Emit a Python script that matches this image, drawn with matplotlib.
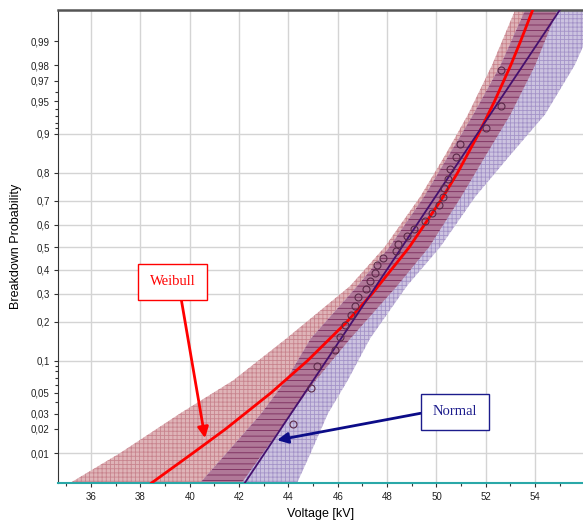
import numpy as np
import matplotlib
matplotlib.use("Agg")
import matplotlib.pyplot as plt
from matplotlib.ticker import FixedLocator, FixedFormatter
from statistics import NormalDist

# ---- data ----
# fitted lines (voltage at given breakdown probability)
line_p = [0.00385, 0.01, 0.02, 0.05, 0.1, 0.2, 0.3, 0.5, 0.7, 0.8, 0.9, 0.95, 0.98, 0.99, 0.9963]
weibull_kv = [38.45, 40.13, 41.46, 43.30, 44.78, 46.38, 47.40, 48.90, 50.17, 50.86, 51.71, 52.35, 53.01, 53.41, 53.90]
normal_kv = [42.23, 43.04, 43.69, 44.67, 45.54, 46.59, 47.35, 48.60, 49.85, 50.61, 51.66, 52.53, 53.51, 54.16, 55.00]

# confidence bands
band_p = [0.00385, 0.01, 0.03, 0.066, 0.15, 0.33, 0.5, 0.715, 0.85, 0.933, 0.98, 0.9963]
weib_lo = [35.15, 37.18, 39.60, 41.76, 43.90, 46.50, 47.90, 49.34, 50.35, 51.28, 52.25, 53.19]
weib_hi = [42.10, 42.97, 44.11, 45.10, 46.50, 48.40, 49.70, 51.00, 52.00, 53.00, 54.00, 54.90]
norm_lo = [40.42, 41.50, 42.90, 43.90, 44.90, 46.80, 48.10, 49.50, 50.50, 51.50, 52.60, 53.60]
norm_hi = [44.35, 44.90, 45.60, 46.40, 47.30, 48.80, 50.15, 51.57, 52.98, 54.40, 55.60, 56.60]

# measured breakdown voltages and their plotting probabilities
meas_p = [0.023, 0.056, 0.089, 0.122, 0.155, 0.188, 0.220, 0.253, 0.286, 0.319,
          0.352, 0.385, 0.418, 0.451, 0.484, 0.516, 0.549, 0.582, 0.615, 0.648,
          0.681, 0.714, 0.747, 0.780, 0.812, 0.845, 0.878, 0.911, 0.944, 0.977]
meas_kv = [44.2, 44.9, 45.15, 45.9, 46.1, 46.3, 46.55, 46.7, 46.8, 47.15,
           47.3, 47.5, 47.6, 47.85, 48.35, 48.45, 48.8, 49.1, 49.55, 49.8,
           50.1, 50.25, 50.3, 50.45, 50.55, 50.8, 50.95, 52.0, 52.6, 52.6]

ytick_vals = [0.01, 0.02, 0.03, 0.05, 0.1, 0.2, 0.3, 0.4, 0.5, 0.6, 0.7, 0.8, 0.9, 0.95, 0.97, 0.98, 0.99]
ytick_labels = ["0,01", "0,02", "0,03", "0,05", "0,1", "0,2", "0,3", "0,4", "0,5", "0,6",
                "0,7", "0,8", "0,9", "0,95", "0,97", "0,98", "0,99"]
ymin_ticks = [0.04, 0.06, 0.07, 0.08, 0.09, 0.91, 0.92, 0.93, 0.94, 0.96]
ygrid_vals = [0.01, 0.1, 0.2, 0.3, 0.4, 0.5, 0.6, 0.7, 0.8, 0.9]
xtick_vals = [36, 38, 40, 42, 44, 46, 48, 50, 52, 54]

# ---- normal probability scale ----
_nd = NormalDist()
_ppf = np.vectorize(lambda p: _nd.inv_cdf(p) if np.isfinite(p) else np.nan, otypes=[float])
_cdf = np.vectorize(lambda z: _nd.cdf(z) if np.isfinite(z) else np.nan, otypes=[float])

def fwd(p):
    p = np.clip(np.asarray(p, dtype=float), 1e-9, 1 - 1e-9)
    return _ppf(p)

def inv(z):
    return _cdf(np.asarray(z, dtype=float))

plt.rcParams["hatch.linewidth"] = 0.6

fig = plt.figure(figsize=(5.83, 5.22), dpi=100)
ax = fig.add_axes([58 / 583, 1 - 483 / 522, 1 - 58 / 583, (483 - 10) / 522])
ax.set_yscale("function", functions=(fwd, inv))
ax.set_xlim(34.66, 55.94)
ax.set_ylim(0.00385, 0.9963)

# grid
for v in ygrid_vals:
    ax.axhline(v, color="#d4d4d4", lw=1, zorder=0)
for v in xtick_vals:
    ax.axvline(v, color="#d4d4d4", lw=1, zorder=0)

# bands (dithered look of the original approximated with fine hatching)
bp = np.array(band_p)
wl, wh = np.array(weib_lo), np.array(weib_hi)
nl, nh = np.array(norm_lo), np.array(norm_hi)
ax.fill_betweenx(bp, wl, wh, facecolor="#dfb4b8", edgecolor="#c8848e",
                 hatch="++++", lw=0, zorder=1)
ax.fill_betweenx(bp, nl, nh, facecolor="#ccc3e0", edgecolor="#a493c8",
                 hatch="++++", lw=0, zorder=1)
ol, oh = np.maximum(wl, nl), np.minimum(wh, nh)
ax.fill_betweenx(bp, ol, oh, where=ol < oh, facecolor="#b07898", edgecolor="#7a2a5c",
                 hatch="---", lw=0, zorder=1.5)

# fitted lines and data
ax.plot(weibull_kv, line_p, color="#ff0000", lw=2, zorder=3)
ax.plot(normal_kv, line_p, color="#45106e", lw=1.3, zorder=3)
ax.plot(meas_kv, meas_p, "o", ms=5, mfc="none", mec="#5a2a48", mew=0.8, zorder=4)

# annotations
ax.annotate("Weibull", xy=(40.62, 0.01546), xytext=(39.30, 0.348),
            ha="center", va="center", color="red", fontsize=10.5, family="Liberation Serif",
            bbox=dict(boxstyle="square,pad=0.8", fc="white", ec="red", lw=1),
            arrowprops=dict(arrowstyle="-|>", color="red", lw=2, mutation_scale=16,
                            relpos=(0.65, 0), shrinkA=0, shrinkB=0), zorder=5)
ax.annotate("Normal", xy=(43.54, 0.0146), xytext=(50.75, 0.0315),
            ha="center", va="center", color="#1c1c8c", fontsize=10.5, family="Liberation Serif",
            bbox=dict(boxstyle="square,pad=0.8", fc="white", ec="#1c1c8c", lw=1),
            arrowprops=dict(arrowstyle="-|>", color="#0c0c88", lw=2, mutation_scale=16,
                            relpos=(0, 0.55), shrinkA=0, shrinkB=0), zorder=5)

# ticks
ax.yaxis.set_major_locator(FixedLocator(ytick_vals))
ax.yaxis.set_major_formatter(FixedFormatter(ytick_labels))
ax.yaxis.set_minor_locator(FixedLocator(ymin_ticks))
ax.xaxis.set_major_locator(FixedLocator(xtick_vals))
ax.xaxis.set_minor_locator(FixedLocator([35, 37, 39, 41, 43, 45, 47, 49, 51, 53, 55]))
ax.tick_params(axis="both", which="major", labelsize=7, length=3, width=0.8,
               color="#333333", labelcolor="#222222")
ax.tick_params(axis="both", which="minor", length=2, width=0.8, color="#333333")
ax.tick_params(axis="y", pad=3)
for lab in ax.get_xticklabels() + ax.get_yticklabels():
    lab.set_family("Liberation Sans")

ax.spines["right"].set_visible(False)
ax.spines["left"].set_color("#333333")
ax.spines["top"].set_color("#555555")
ax.spines["top"].set_linewidth(1.8)
ax.spines["bottom"].set_color("#2aa8a8")
ax.spines["bottom"].set_linewidth(1.5)

ax.set_xlabel("Voltage [kV]", fontsize=9, family="Liberation Sans", labelpad=4)
ax.set_ylabel("Breakdown Probability", fontsize=9, family="Liberation Sans", labelpad=6)

fig.savefig("out.png", dpi=100)
